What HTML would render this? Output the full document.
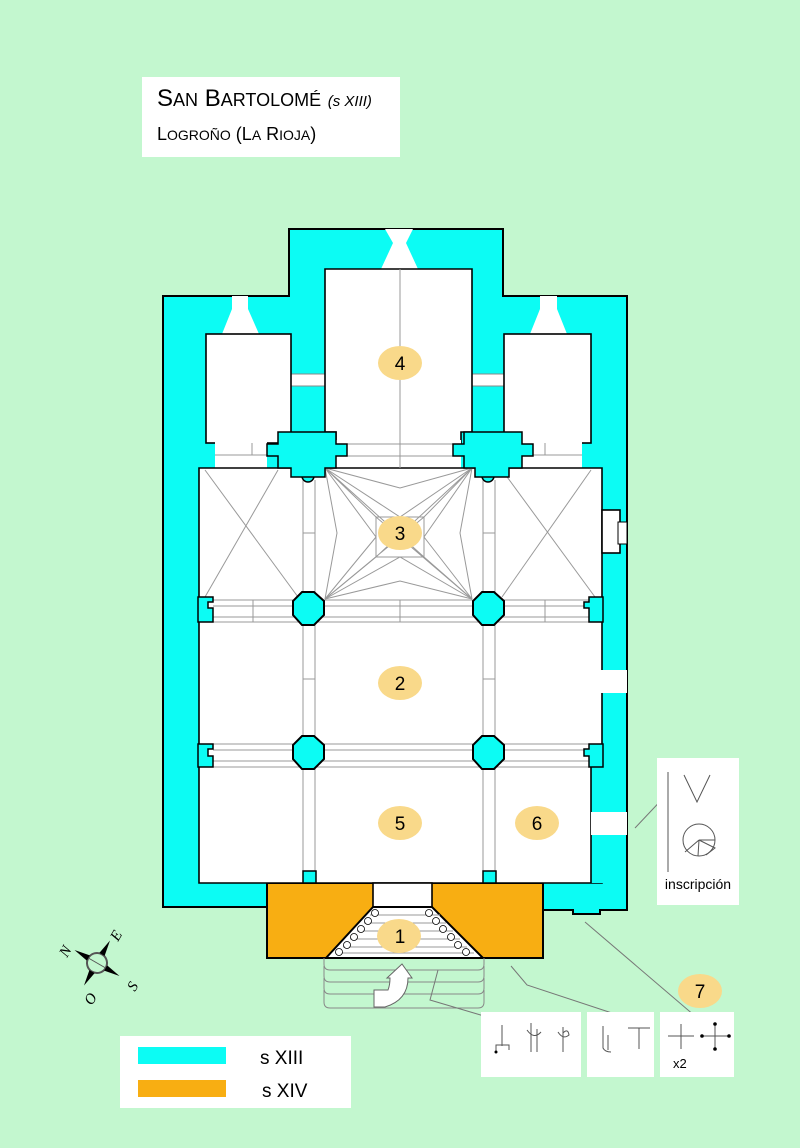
<!DOCTYPE html>
<html><head><meta charset="utf-8"><style>
html,body{margin:0;padding:0;background:#c3f7cf;}
svg{display:block;font-family:"Liberation Sans",sans-serif;}
</style></head><body>
<svg width="800" height="1148" viewBox="0 0 800 1148" xmlns="http://www.w3.org/2000/svg">
<rect width="800" height="1148" fill="#c3f7cf"/>
<rect x="142" y="77" width="258" height="80" fill="#fff"/>
<text x="157" y="106" font-size="24" fill="#000">S<tspan font-size="18">AN</tspan> B<tspan font-size="18">ARTOLOMÉ</tspan> <tspan font-size="15" font-style="italic">(s XIII)</tspan></text>
<text x="157" y="140" font-size="18" fill="#000">L<tspan font-size="14">OGROÑO</tspan> (L<tspan font-size="14">A</tspan> R<tspan font-size="14">IOJA</tspan>)</text>

<path d="M163,296 H289 V229 H503 V296 H627 V910 H600 V914 H573 V910 H543 V907 H163 Z" fill="#0cfcf4" stroke="#000" stroke-width="2"/>
<rect x="267" y="883" width="276" height="75" fill="#f8ae12" stroke="#000" stroke-width="2"/>

<g fill="#fff" stroke="#000" stroke-width="1.6">
<path d="M385,229 H413 L406,243 L418,269 H381 L393,243 Z" stroke="none"/>
<path d="M232,296 H248 V309 L259,334 H222 L232,309 Z" stroke="none"/>
<path d="M540,296 H557 V309 L567,334 H530 L540,309 Z" stroke="none"/>
<rect x="289" y="374" width="38" height="12" stroke="#888" stroke-width="1"/>
<rect x="470" y="374" width="36" height="12" stroke="#888" stroke-width="1"/>
<path d="M325,269 H472 V432 H461 V444 H336 V432 H325 Z"/>
<rect x="336" y="440" width="125" height="30" stroke="none"/>
<rect x="206" y="334" width="85" height="109"/>
<rect x="504" y="334" width="87" height="109"/>
<rect x="215" y="441" width="52" height="30" stroke="none"/>
<rect x="517" y="441" width="65" height="30" stroke="none"/>
<path d="M199,468 H602 V883 H199 Z"/>
<rect x="602" y="510" width="18" height="43"/>
<rect x="618" y="522" width="9" height="22" stroke-width="1"/>
<rect x="600" y="670" width="27" height="23" stroke="none"/>
</g>
<rect x="591" y="767" width="12" height="116" fill="#0cfcf4"/>
<line x1="591" y1="767" x2="591" y2="883" stroke="#000" stroke-width="1.6"/>
<rect x="591" y="812" width="36" height="23" fill="#fff"/>

<!-- nave grey lines -->
<g stroke="#999" stroke-width="1" fill="none">
<line x1="303" y1="480" x2="303" y2="871"/><line x1="315" y1="480" x2="315" y2="871"/>
<line x1="483" y1="480" x2="483" y2="871"/><line x1="495" y1="480" x2="495" y2="871"/>
<line x1="213" y1="600" x2="589" y2="600"/><line x1="213" y1="606" x2="589" y2="606"/><line x1="213" y1="617" x2="589" y2="617"/><line x1="199" y1="622" x2="602" y2="622"/>
<line x1="199" y1="744" x2="602" y2="744"/><line x1="213" y1="750" x2="589" y2="750"/><line x1="213" y1="761" x2="589" y2="761"/><line x1="199" y1="767" x2="591" y2="767"/>
<line x1="400" y1="269" x2="400" y2="468"/>
<line x1="336" y1="444" x2="461" y2="444"/><line x1="336" y1="456" x2="461" y2="456"/>
<line x1="215" y1="455" x2="267" y2="455"/><line x1="533" y1="455" x2="582" y2="455"/>
<line x1="252" y1="443" x2="252" y2="455"/><line x1="545" y1="443" x2="545" y2="455"/>
<line x1="253" y1="600" x2="253" y2="622"/><line x1="400" y1="600" x2="400" y2="622"/><line x1="545" y1="600" x2="545" y2="622"/>
<line x1="303" y1="533" x2="315" y2="533"/><line x1="483" y1="533" x2="495" y2="533"/>
<line x1="303" y1="679" x2="315" y2="679"/><line x1="483" y1="679" x2="495" y2="679"/>
<line x1="205" y1="470" x2="298" y2="597"/><line x1="278" y1="470" x2="205" y2="597"/>
<line x1="502" y1="470" x2="595" y2="597"/><line x1="591" y1="470" x2="502" y2="597"/>
<rect x="376" y="517" width="48" height="40"/>
<path d="M325,468 L400,488 L472,468 M325,599 L400,581 L472,599 M325,468 L337,533 L325,599 M472,468 L460,533 L472,599"/>
<path d="M325,468 L400,517 L472,468 M325,599 L400,557 L472,599 M325,468 L376,537 M325,599 L376,537 M472,468 L424,537 M472,599 L424,537"/>
<path d="M325,468 L424,557 M472,468 L376,557 M325,599 L424,517 M472,599 L376,517"/>
<path d="M325,468 L376,517 M472,468 L424,517 M325,599 L376,557 M472,599 L424,557"/>
</g>

<g fill="#0cfcf4" stroke="#000" stroke-width="1.5">
<path d="M198,597 H213 V602 H208 V608 H213 V622 H198 Z"/>
<path d="M198,744 H213 V749 H208 V756 H213 V767 H198 Z"/>
<path d="M603,597 H589 V602 H584 V608 H589 V622 H603 Z"/>
<path d="M603,744 H589 V749 H584 V756 H589 V767 H603 Z"/>
<path d="M302,476 A6,6 0 0 0 314,476 Z"/>
<path d="M482,476 A6,6 0 0 0 494,476 Z"/>
<path d="M278,432 H336 V444 H347 V456 H336 V468 H325 V477 H291 V468 H278 V456 H267 V444 H278 Z"/>
<path d="M522,432 H464 V444 H453 V456 H464 V468 H475 V477 H509 V468 H522 V456 H533 V444 H522 Z"/>
<rect x="303" y="871" width="13" height="12"/>
<rect x="483" y="871" width="13" height="12"/>
</g>
<g fill="#0cfcf4" stroke="#000" stroke-width="2">
<polygon points="302,592 314,592 324,601 324,615 314,625 302,625 293,615 293,601"/>
<polygon points="482,592 494,592 504,601 504,615 494,625 482,625 473,615 473,601"/>
<polygon points="302,736 314,736 324,745 324,759 314,769 302,769 293,759 293,745"/>
<polygon points="482,736 494,736 504,745 504,759 494,769 482,769 473,759 473,745"/>
</g>

<rect x="373" y="883" width="59" height="24" fill="#fff" stroke="#000" stroke-width="1.6"/>
<polygon points="373,907 432,907 483,958 326,958" fill="#fff" stroke="#000" stroke-width="2"/>
<g stroke="#999" stroke-width="1">
<line x1="370" y1="915" x2="440" y2="915"/><line x1="364" y1="923" x2="446" y2="923"/><line x1="357" y1="931" x2="453" y2="931"/><line x1="350" y1="939" x2="460" y2="939"/><line x1="343" y1="947" x2="467" y2="947"/><line x1="336" y1="953" x2="474" y2="953"/>
</g>
<g fill="#fff" stroke="#000" stroke-width="0.8">
<circle cx="375" cy="913" r="3.5"/><circle cx="368" cy="921" r="3.5"/><circle cx="361" cy="929" r="3.5"/><circle cx="354" cy="937" r="3.5"/><circle cx="347" cy="945" r="3.5"/><circle cx="339" cy="952" r="3.5"/>
<circle cx="429" cy="913" r="3.5"/><circle cx="436" cy="921" r="3.5"/><circle cx="443" cy="929" r="3.5"/><circle cx="451" cy="937" r="3.5"/><circle cx="458" cy="945" r="3.5"/><circle cx="466" cy="952" r="3.5"/>
</g>
<g fill="none" stroke="#888" stroke-width="1">
<path d="M324,958 V964 Q324,970 330,970 H478 Q484,970 484,964 V958"/>
<path d="M324,966 V976 Q324,982 330,982 H478 Q484,982 484,976 V966"/>
<path d="M324,978 V988 Q324,994 330,994 H478 Q484,994 484,988 V978"/>
<path d="M324,990 V1002 Q324,1008 330,1008 H478 Q484,1008 484,1002 V990"/>
</g>
<path d="M374,1007 V990 H388 Q390,985 390,978 H387 L402,964 L412,978 H408 Q408,1000 385,1007 Z" fill="#fff" stroke="#666" stroke-width="1"/>

<g fill="#f9d98a">
<ellipse cx="400" cy="363" rx="22" ry="17"/><ellipse cx="400" cy="533" rx="22" ry="17"/>
<ellipse cx="400" cy="683" rx="22" ry="17"/><ellipse cx="400" cy="823" rx="22" ry="17"/>
<ellipse cx="537" cy="823" rx="22" ry="17"/><ellipse cx="399" cy="936" rx="22" ry="17"/>
<ellipse cx="700" cy="991" rx="22" ry="17"/>
</g>
<g font-size="19" text-anchor="middle" fill="#000">
<text x="400" y="370">4</text><text x="400" y="540">3</text><text x="400" y="690">2</text>
<text x="400" y="830">5</text><text x="537" y="830">6</text><text x="400" y="943">1</text><text x="700" y="998">7</text>
</g>

<g stroke="#777" stroke-width="1" fill="none">
<path d="M635,828 L668,793"/>
<path d="M585,922 L695,1016"/>
<path d="M511,966 L527,985 L621,1016"/>
<path d="M438,970 L430,1000 L484,1016"/>
<path d="M482,1016 H578 M590,1016 H652 M665,1016 H730"/>
</g>

<rect x="657" y="758" width="82" height="147" fill="#fff"/>
<g stroke="#555" stroke-width="1" fill="none">
<line x1="668" y1="772" x2="668" y2="872"/>
<path d="M684,775 L697,802 L710,775"/>
<circle cx="699" cy="840" r="16"/>
<path d="M699,840 H715 M699,840 L715,848 L706,855 M699,840 L685,852 M699,840 L698,856"/>
</g>
<text x="698" y="889" font-size="14" text-anchor="middle">inscripción</text>

<rect x="481" y="1012" width="100" height="65" fill="#fff"/>
<rect x="587" y="1012" width="67" height="65" fill="#fff"/>
<rect x="660" y="1012" width="74" height="65" fill="#fff"/>
<g stroke="#555" stroke-width="1" fill="none">
<path d="M502,1025 V1046 M496,1053 V1045 H509 V1050"/>
<path d="M531,1023 V1052 M537,1029 V1052 M527,1030 Q534,1040 541,1032"/>
<path d="M563,1027 V1052 M558,1032 Q563,1040 569,1035 Q568,1028 563,1033"/>
<path d="M603,1026 V1048 Q605,1052 611,1052 M608,1035 V1050"/>
<path d="M628,1028 H650 M639,1028 V1049"/>
<path d="M668,1036 H694 M681,1024 V1049"/>
<path d="M702,1036 H729 M715,1024 V1049"/>
</g>
<g fill="#000"><circle cx="702" cy="1036" r="1.8"/><circle cx="729" cy="1036" r="1.8"/><circle cx="715" cy="1024" r="1.8"/><circle cx="715" cy="1049" r="1.8"/><circle cx="496" cy="1052" r="1.5"/></g>
<text x="673" y="1068" font-size="13">x2</text>

<g transform="translate(97,963) rotate(30)">
<circle r="10" fill="none" stroke="#555" stroke-width="2"/>
<polygon points="0,-26 -3,-10 3,-10" fill="#000"/>
<polygon points="0,26 -3,10 3,10" fill="#000"/>
<polygon points="-26,0 -10,-3 -10,3" fill="#000"/>
<polygon points="26,0 10,-3 10,3" fill="#000"/>
<line x1="-10" y1="0" x2="10" y2="0" stroke="#555"/>
</g>
<g font-family="Liberation Serif,serif" font-style="italic" font-size="15" fill="#000">
<text x="67" y="958" transform="rotate(-60 67 958)">N</text>
<text x="118" y="942" transform="rotate(-60 118 942)">E</text>
<text x="135" y="992" transform="rotate(-60 135 992)">S</text>
<text x="92" y="1006" transform="rotate(-60 92 1006)">O</text>
</g>

<rect x="120" y="1036" width="231" height="72" fill="#fff"/>
<rect x="138" y="1047" width="88" height="17" fill="#0cfcf4"/>
<rect x="138" y="1080" width="88" height="17" fill="#f8ae12"/>
<text x="260" y="1064" font-size="19">s XIII</text>
<text x="262" y="1097" font-size="19">s XIV</text>
</svg>
</body></html>
